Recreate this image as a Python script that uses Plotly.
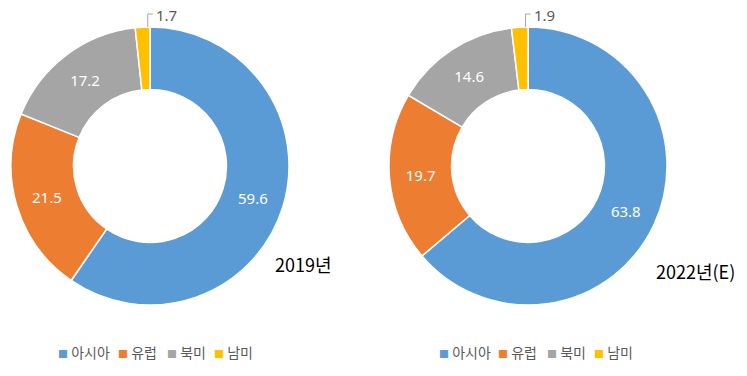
import math
import plotly.graph_objects as go

W, H = 747, 376
regions = ["아시아", "유럽", "북미", "남미"]
values_2019 = [59.6, 21.5, 17.2, 1.7]
values_2022 = [63.8, 19.7, 14.6, 1.9]
titles = ["2019년", "2022년(E)"]
colors = ["#5B9BD5", "#ED7D31", "#A5A5A5", "#FFC000"]

FONT = "Noto Sans CJK KR, Malgun Gothic, sans-serif"
NUMFONT = "Noto Sans, Segoe UI, sans-serif"

# pie placement (pixels)
pies = [
    dict(cx=150, cy=166, r=139, vals=values_2019, title_xy=(303, 264), leg_x=[57, 117, 166, 213]),
    dict(cx=528, cy=166, r=139, vals=values_2022, title_xy=(695, 271), leg_x=[438, 497, 546, 593]),
]

fig = go.Figure()
annotations = []
shapes = []
for i, p in enumerate(pies):
    x0, x1 = (p["cx"] - p["r"]) / W, (p["cx"] + p["r"]) / W
    y0, y1 = 1 - (p["cy"] + p["r"]) / H, 1 - (p["cy"] - p["r"]) / H
    fig.add_trace(go.Pie(
        labels=regions, values=p["vals"], sort=False, direction="clockwise", rotation=0,
        hole=0.55, domain=dict(x=[x0, x1], y=[y0, y1]),
        marker=dict(colors=colors, line=dict(color="white", width=1.5)),
        texttemplate="%{value}", textposition=["inside", "inside", "inside", "none"],
        insidetextorientation="horizontal",
        textfont=dict(color="white", size=15, family=NUMFONT),
        hoverinfo="label+value", showlegend=False,
    ))
    # small slice label with leader line
    total = sum(p["vals"])
    before = sum(p["vals"][:-1])
    ang = (before + p["vals"][-1] * 0.85) / total * 2 * math.pi
    ex = p["cx"] + p["r"] * math.sin(ang)
    ey = p["cy"] - p["r"] * math.cos(ang)
    ly = ey - 13
    lx = ex + 5
    shapes.append(dict(type="path", xref="paper", yref="paper",
                       path=f"M {ex/W} {1-ey/H} L {ex/W} {1-ly/H} L {lx/W} {1-ly/H}",
                       line=dict(color="#A6A6A6", width=1)))
    annotations.append(dict(x=(lx + 1) / W, y=1 - (ly + 1) / H, xref="paper", yref="paper",
                            text=str(p["vals"][-1]), showarrow=False, xanchor="left",
                            yanchor="middle", font=dict(color="#595959", size=15, family=NUMFONT)))
    tx, ty = p["title_xy"]
    annotations.append(dict(x=tx / W, y=1 - ty / H, xref="paper", yref="paper",
                            text=titles[i], showarrow=False, xanchor="center", yanchor="middle",
                            font=dict(color="black", size=18, family=FONT)))
    # legend (per chart)
    for name, col, lx_ in zip(regions, colors, p["leg_x"]):
        annotations.append(dict(
            x=(lx_ - 1) / W, y=1 - 352 / H, xref="paper", yref="paper", showarrow=False,
            xanchor="left", yanchor="middle",
            text=f"<span style='color:{col};font-size:10px'>■</span> {name}",
            font=dict(color="#595959", size=14, family=FONT)))

fig.update_layout(
    width=W, height=H, margin=dict(l=0, r=0, t=0, b=0),
    paper_bgcolor="white", plot_bgcolor="white",
    showlegend=False,
    annotations=annotations, shapes=shapes,
)
fig.write_html("out.html", config={"displayModeBar": False},
               post_script="document.body.style.margin='0px';")
